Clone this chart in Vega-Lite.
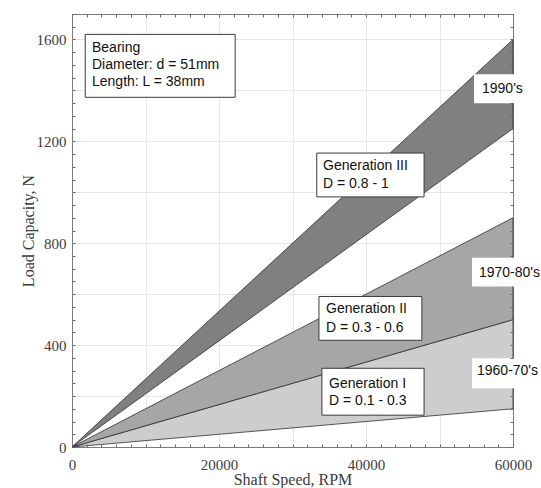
{
  "$schema": "https://vega.github.io/schema/vega-lite/v6.json",
  "width": 441,
  "height": 433,
  "autosize": {"type": "none"},
  "padding": {"left": 72, "top": 14, "right": 28, "bottom": 41},
  "background": "white",
  "config": {
    "view": {"stroke": "#7a7a7a", "strokeWidth": 1},
    "axis": {"labelFlush": false, "labelOverlap": false, "labelBound": false}
  },
  "datasets": {
    "bands": [
      {"band": "I", "speed": 0, "lo": 0, "hi": 0},
      {"band": "I", "speed": 60000, "lo": 150, "hi": 500},
      {"band": "II", "speed": 0, "lo": 0, "hi": 0},
      {"band": "II", "speed": 60000, "lo": 500, "hi": 900},
      {"band": "III", "speed": 0, "lo": 0, "hi": 0},
      {"band": "III", "speed": 60000, "lo": 1250, "hi": 1600}
    ],
    "framed": [
      {"x1": 1800, "x2": 22200, "y1": 1373, "y2": 1620},
      {"x1": 33300, "x2": 47900, "y1": 982, "y2": 1154},
      {"x1": 33600, "x2": 47600, "y1": 419, "y2": 591},
      {"x1": 34000, "x2": 47900, "y1": 125, "y2": 309}
    ],
    "plain": [
      {"x1": 54700, "x2": 62000, "y1": 1350, "y2": 1463},
      {"x1": 54420, "x2": 63900, "y1": 630, "y2": 743},
      {"x1": 54420, "x2": 63900, "y1": 231, "y2": 348}
    ],
    "labels": [
      {"t": "Bearing", "tx": 2720, "ty": 1565},
      {"t": "Diameter: d = 51mm", "tx": 2720, "ty": 1498},
      {"t": "Length: L = 38mm", "tx": 2720, "ty": 1432},
      {"t": "Generation III", "tx": 34150, "ty": 1103},
      {"t": "D = 0.8 - 1", "tx": 34150, "ty": 1033},
      {"t": "Generation II", "tx": 34560, "ty": 540},
      {"t": "D = 0.3 - 0.6", "tx": 34560, "ty": 469},
      {"t": "Generation I", "tx": 34970, "ty": 246},
      {"t": "D = 0.1 - 0.3", "tx": 34970, "ty": 180},
      {"t": "1990's", "tx": 55780, "ty": 1405},
      {"t": "1970-80's", "tx": 55370, "ty": 685},
      {"t": "1960-70's", "tx": 55100, "ty": 297}
    ]
  },
  "resolve": {"axis": {"x": "independent", "y": "independent"}},
  "layer": [
    {
      "data": {"name": "bands"},
      "mark": {"type": "area", "stroke": "#2e2e2e", "strokeWidth": 0.8},
      "encoding": {
        "x": {"field": "speed", "type": "quantitative", "scale": {"domain": [0, 60000], "nice": false, "zero": false},
          "axis": {"orient": "bottom", "zindex": 2, "values": [0, 2000, 4000, 6000, 8000, 10000, 12000, 14000, 16000, 18000, 20000, 22000, 24000, 26000, 28000, 30000, 32000, 34000, 36000, 38000, 40000, 42000, 44000, 46000, 48000, 50000, 52000, 54000, 56000, 58000, 60000],
            "format": "d", "labelExpr": "datum.value % 20000 === 0 ? datum.label : ''",
            "grid": true, "gridColor": "#666666", "gridWidth": 1, "gridDash": [3, 427, 3, 1000],
            "ticks": false, "domain": false,
            "labelFont": "Liberation Serif", "labelFontSize": 15, "labelColor": "#3c3c3c", "labelPadding": 10,
            "title": "Shaft Speed, RPM", "titleFont": "Liberation Serif", "titleFontSize": 16, "titleFontWeight": "normal", "titleColor": "#3c3c3c", "titlePadding": -1}},
        "y": {"field": "lo", "type": "quantitative", "scale": {"domain": [0, 1700], "nice": false, "zero": false},
          "axis": {"orient": "left", "zindex": 2, "values": [0, 50, 100, 150, 200, 250, 300, 350, 400, 450, 500, 550, 600, 650, 700, 750, 800, 850, 900, 950, 1000, 1050, 1100, 1150, 1200, 1250, 1300, 1350, 1400, 1450, 1500, 1550, 1600, 1650, 1700],
            "format": "d", "labelExpr": "datum.value % 400 === 0 ? datum.label : ''",
            "grid": true, "gridColor": "#666666", "gridWidth": 1,
            "gridDash": {"condition": {"test": "indexof([250, 300, 650, 700, 1400, 1450], datum.value) >= 0", "value": [3, 2000]}, "value": [3, 435, 3, 1000]},
            "ticks": false, "domain": false,
            "labelFont": "Liberation Serif", "labelFontSize": 15, "labelColor": "#3c3c3c", "labelPadding": 6,
            "title": "Load Capacity, N", "titleFont": "Liberation Serif", "titleFontSize": 16, "titleFontWeight": "normal", "titleColor": "#3c3c3c", "titlePadding": 0}},
        "y2": {"field": "hi"},
        "color": {"field": "band", "type": "nominal", "scale": {"domain": ["I", "II", "III"], "range": ["#cdcdcd", "#a6a6a6", "#808080"]}, "legend": null}
      }
    },
    {
      "data": {"name": "bands"},
      "mark": {"type": "point", "opacity": 0},
      "encoding": {
        "x": {"field": "speed", "type": "quantitative", "scale": {"domain": [0, 60000], "nice": false, "zero": false},
          "axis": {"orient": "top", "zindex": 0, "values": [10000, 20000, 30000, 40000, 50000],
            "grid": true, "gridColor": "#e6e6e6", "gridWidth": 1,
            "labels": false, "domain": false, "ticks": false, "title": null}},
        "y": {"field": "hi", "type": "quantitative", "scale": {"domain": [0, 1700], "nice": false, "zero": false},
          "axis": {"orient": "right", "zindex": 0, "values": [200, 400, 600, 800, 1000, 1200, 1400, 1600],
            "grid": true, "gridColor": "#e6e6e6", "gridWidth": 1,
            "labels": false, "domain": false, "ticks": false, "title": null}}
      }
    },
    {
      "data": {"name": "framed"},
      "mark": {"type": "rect", "fill": "white", "stroke": "#3a3a3a", "strokeWidth": 1},
      "encoding": {
        "x": {"field": "x1", "type": "quantitative", "scale": {"domain": [0, 60000], "nice": false, "zero": false}, "axis": null},
        "x2": {"field": "x2"},
        "y": {"field": "y1", "type": "quantitative", "scale": {"domain": [0, 1700], "nice": false, "zero": false}, "axis": null},
        "y2": {"field": "y2"}
      }
    },
    {
      "data": {"name": "plain"},
      "mark": {"type": "rect", "fill": "white", "strokeWidth": 0},
      "encoding": {
        "x": {"field": "x1", "type": "quantitative", "scale": {"domain": [0, 60000], "nice": false, "zero": false}, "axis": null},
        "x2": {"field": "x2"},
        "y": {"field": "y1", "type": "quantitative", "scale": {"domain": [0, 1700], "nice": false, "zero": false}, "axis": null},
        "y2": {"field": "y2"}
      }
    },
    {
      "data": {"name": "labels"},
      "mark": {"type": "text", "align": "left", "baseline": "middle", "font": "Liberation Sans", "fontSize": 14, "color": "#111111"},
      "encoding": {
        "x": {"field": "tx", "type": "quantitative", "scale": {"domain": [0, 60000], "nice": false, "zero": false}, "axis": null},
        "y": {"field": "ty", "type": "quantitative", "scale": {"domain": [0, 1700], "nice": false, "zero": false}, "axis": null},
        "text": {"field": "t", "type": "nominal"}
      }
    }
  ]
}
